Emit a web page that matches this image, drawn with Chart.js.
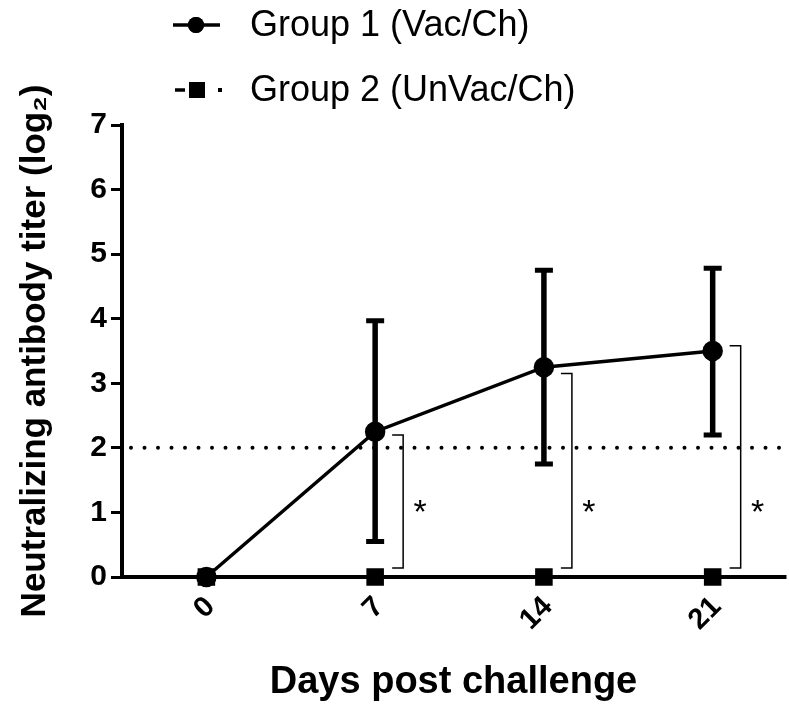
<!DOCTYPE html>
<html><head><meta charset="utf-8">
<script src="https://cdn.jsdelivr.net/npm/chart.js@4"></script>
<style>html,body{margin:0;padding:0;background:#fff}#wrap{width:789px;height:706px;position:relative}</style>
</head><body><div id="wrap"><canvas id="c" width="789" height="706"></canvas></div>
<script>
// ---- data ----
const days = [0, 7, 14, 21];
const dayLabels = ['0', '7', '14', '21'];
const seriesLabels = ['Group 1 (Vac/Ch)', 'Group 2 (UnVac/Ch)'];
const group1Mean = [0, 2.25, 3.25, 3.5];
const group1Upper = [0, 3.97, 4.75, 4.78];
const group1Lower = [0, 0.55, 1.75, 2.2];
const group2Mean = [0, 0, 0, 0];
const yTicks = [0, 1, 2, 3, 4, 5, 6, 7];
const thresholdValue = 2;
const sigDays = [7, 14, 21];
const sigTop = [2.2, 3.15, 3.58];
const sigBottom = [0.14, 0.14, 0.14];
const sigMarkY = [1.1, 1.1, 1.1];
const sigMarks = ['*', '*', '*'];
const xTitle = 'Days post challenge';
const yTitle = 'Neutralizing antibody titer (log\u2082)';

const FONT = "'Liberation Sans', Arial, Helvetica, sans-serif";

const errorBars = {
  id: 'errorBars',
  afterDatasetsDraw(chart) {
    const {ctx, scales: {x, y}} = chart;
    ctx.save();
    ctx.strokeStyle = '#000';
    ctx.lineCap = 'butt';
    days.forEach((d, i) => {
      if (group1Upper[i] === group1Lower[i]) return;
      const px = x.getPixelForValue(d);
      const yu = y.getPixelForValue(group1Upper[i]);
      const yl = y.getPixelForValue(group1Lower[i]);
      ctx.lineWidth = 5.5;
      ctx.beginPath();
      ctx.moveTo(px, yu); ctx.lineTo(px, yl);
      ctx.stroke();
      ctx.lineWidth = 5;
      ctx.beginPath();
      ctx.moveTo(px - 9, yu); ctx.lineTo(px + 9, yu);
      ctx.moveTo(px - 9, yl); ctx.lineTo(px + 9, yl);
      ctx.stroke();
    });
    // significance brackets
    ctx.lineWidth = 1.5;
    ctx.fillStyle = '#000';
    ctx.font = '34px ' + FONT;
    ctx.textAlign = 'center';
    ctx.textBaseline = 'middle';
    sigDays.forEach((d, i) => {
      const bx = x.getPixelForValue(d) + 28;
      const yt = y.getPixelForValue(sigTop[i]);
      const yb = y.getPixelForValue(sigBottom[i]);
      ctx.beginPath();
      ctx.moveTo(bx - 11, yt); ctx.lineTo(bx, yt); ctx.lineTo(bx, yb); ctx.lineTo(bx - 11, yb);
      ctx.stroke();
      ctx.fillText(sigMarks[i], bx + 17, y.getPixelForValue(sigMarkY[i]) + 8);
    });
    ctx.restore();
  }
};

const threshold = {
  id: 'threshold',
  beforeDatasetsDraw(chart) {
    const {ctx, chartArea, scales: {y}} = chart;
    const py = y.getPixelForValue(thresholdValue);
    ctx.save();
    ctx.fillStyle = '#000';
    for (let px = chartArea.left + 9; px < chartArea.right; px += 13.5) {
      ctx.beginPath();
      ctx.arc(px, py, 2, 0, Math.PI * 2);
      ctx.fill();
    }
    ctx.restore();
  }
};

const customLegend = {
  id: 'customLegend',
  afterDraw(chart) {
    const {ctx} = chart;
    const rows = [25, 90];
    ctx.save();
    chart.data.datasets.forEach((ds, i) => {
      const yy = rows[i];
      ctx.strokeStyle = '#000';
      ctx.fillStyle = '#000';
      ctx.lineWidth = 3.5;
      if (i === 0) {
        ctx.beginPath(); ctx.moveTo(173, yy); ctx.lineTo(220, yy); ctx.stroke();
        Chart.helpers.drawPoint(ctx, {pointStyle: 'circle', rotation: 0, borderWidth: 0, radius: 8}, 196, yy);
        ctx.fill();
      } else {
        ctx.beginPath(); ctx.moveTo(175, yy); ctx.lineTo(185, yy); ctx.stroke();
        ctx.fillRect(189, yy - 8, 16, 16);
        ctx.fillRect(218, yy - 2, 4, 4);
      }
      ctx.font = '36px ' + FONT;
      ctx.textAlign = 'left';
      ctx.textBaseline = 'middle';
      ctx.fillText(ds.label, 250, yy + 1);
    });
    ctx.restore();
  }
};

new Chart(document.getElementById('c'), {
  type: 'line',
  data: {
    datasets: [
      {
        label: seriesLabels[0],
        data: days.map((d, i) => ({x: d, y: group1Mean[i]})),
        borderColor: '#000', backgroundColor: '#000', borderWidth: 3.5,
        pointStyle: 'circle', pointRadius: 8.5, pointBackgroundColor: '#000', pointBorderColor: '#000',
        tension: 0, clip: false
      },
      {
        label: seriesLabels[1],
        data: days.map((d, i) => ({x: d, y: group2Mean[i]})),
        borderColor: '#000', backgroundColor: '#000', borderWidth: 2, borderDash: [8, 6],
        pointStyle: 'rect', pointRadius: 11, pointBackgroundColor: '#000', pointBorderColor: '#000',
        tension: 0, clip: false
      }
    ]
  },
  options: {
    responsive: false, animation: false, devicePixelRatio: 1,
    layout: {autoPadding: false, padding: {top: 125, right: 4, left: 0, bottom: 0}},
    plugins: {legend: {display: false}, tooltip: {enabled: false}},
    scales: {
      x: {
        type: 'linear', min: -3.5, max: 24,
        afterBuildTicks: (axis) => { axis.ticks = days.map(v => ({value: v})); },
        afterFit: (axis) => { axis.height = 129; axis.paddingLeft = 0; axis.paddingRight = 0; },
        grid: {drawOnChartArea: false, drawTicks: true, tickLength: 8, color: '#000', lineWidth: 2.5},
        border: {color: '#000', width: 4},
        ticks: {
          color: '#000', font: {family: FONT, weight: 'bold', size: 29},
          maxRotation: 45, minRotation: 45, padding: 5, labelOffset: 4,
          callback: (v) => dayLabels[days.indexOf(v)]
        },
        title: {display: true, text: xTitle, color: '#000', font: {family: FONT, weight: 'bold', size: 38}, padding: {top: 0, bottom: 1}}
      },
      y: {
        min: 0, max: 7,
        afterBuildTicks: (axis) => { axis.ticks = yTicks.map(v => ({value: v})); },
        afterFit: (axis) => { axis.width = 122; },
        grid: {drawOnChartArea: false, drawTicks: true, tickLength: 11, color: '#000', lineWidth: 3},
        border: {color: '#000', width: 4},
        ticks: {color: '#000', font: {family: FONT, weight: 'bold', size: 30}, padding: 4},
        title: {display: true, text: yTitle, color: '#000', font: {family: FONT, weight: 'bold', size: 35}, padding: {top: 14, bottom: 0}}
      }
    }
  },
  plugins: [threshold, errorBars, customLegend]
});
</script>
</body></html>
